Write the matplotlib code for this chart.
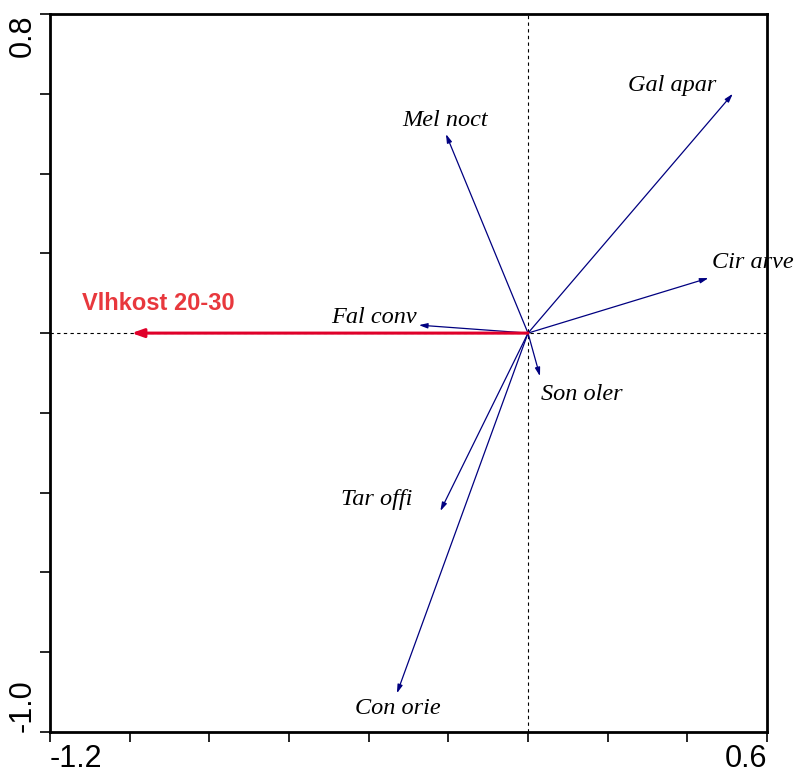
import matplotlib.pyplot as plt

# species arrows (tip coordinates) and label positions
species = ['Gal apar', 'Mel noct', 'Cir arve', 'Fal conv', 'Son oler', 'Tar offi', 'Con orie']
sp_x = [0.514, -0.206, 0.453, -0.274, 0.030, -0.220, -0.329]
sp_y = [0.600, 0.499, 0.138, 0.020, -0.108, -0.446, -0.903]
lab_x = [0.362, -0.209, 0.565, -0.387, 0.134, -0.379, -0.328]
lab_y = [0.622, 0.534, 0.178, 0.038, -0.155, -0.418, -0.940]

# environmental variable
env_name = 'Vlhkost 20-30'
env_x = -0.995
env_y = 0.0
env_lab = (-0.928, 0.075)

fig = plt.figure(figsize=(7.97, 7.74), dpi=100)
ax = fig.add_axes([0.0627, 0.0543, 0.8997, 0.9276])
ax.set_xlim(-1.2, 0.6)
ax.set_ylim(-1.0, 0.8)

ax.axvline(0, color='black', ls=(0, (3, 3)), lw=0.8)
ax.axhline(0, color='black', ls=(0, (3, 3)), lw=0.8)

for name, x, y, lx, ly in zip(species, sp_x, sp_y, lab_x, lab_y):
    ax.annotate('', xy=(x, y), xytext=(0, 0),
                arrowprops=dict(arrowstyle='-|>,head_length=0.5,head_width=0.15',
                                color='#000080', lw=0.9, shrinkA=0, shrinkB=0))
    ax.text(lx, ly, name, ha='center', va='center', fontsize=17.5,
            family='Liberation Serif', style='italic')

ax.annotate('', xy=(env_x, env_y), xytext=(0, 0),
            arrowprops=dict(arrowstyle='-|>,head_length=0.7,head_width=0.25',
                            color='#e0002a', lw=2.2, shrinkA=0, shrinkB=0))
ax.text(env_lab[0], env_lab[1], env_name, ha='center', va='center', fontsize=17,
        family='Liberation Sans', fontweight='bold', color='#e8383d')

ax.set_xticks([-1.2 + 0.2 * i for i in range(10)])
ax.set_yticks([-1.0 + 0.2 * i for i in range(10)])
ax.set_xticklabels(['-1.2'] + [''] * 8 + ['0.6'], family='Liberation Sans', fontsize=22)
ax.set_yticklabels(['-1.0'] + [''] * 8 + ['0.8'], family='Liberation Sans', fontsize=22,
                   rotation=90)
ax.tick_params(direction='out', length=7, width=1.2, pad=2)
xl = ax.get_xticklabels()
xl[0].set_ha('left')
xl[-1].set_ha('right')
yl = ax.get_yticklabels()
yl[0].set_va('bottom')
yl[-1].set_va('top')
for s in ax.spines.values():
    s.set_linewidth(2)

fig.savefig('out.png', dpi=100, facecolor='white')
